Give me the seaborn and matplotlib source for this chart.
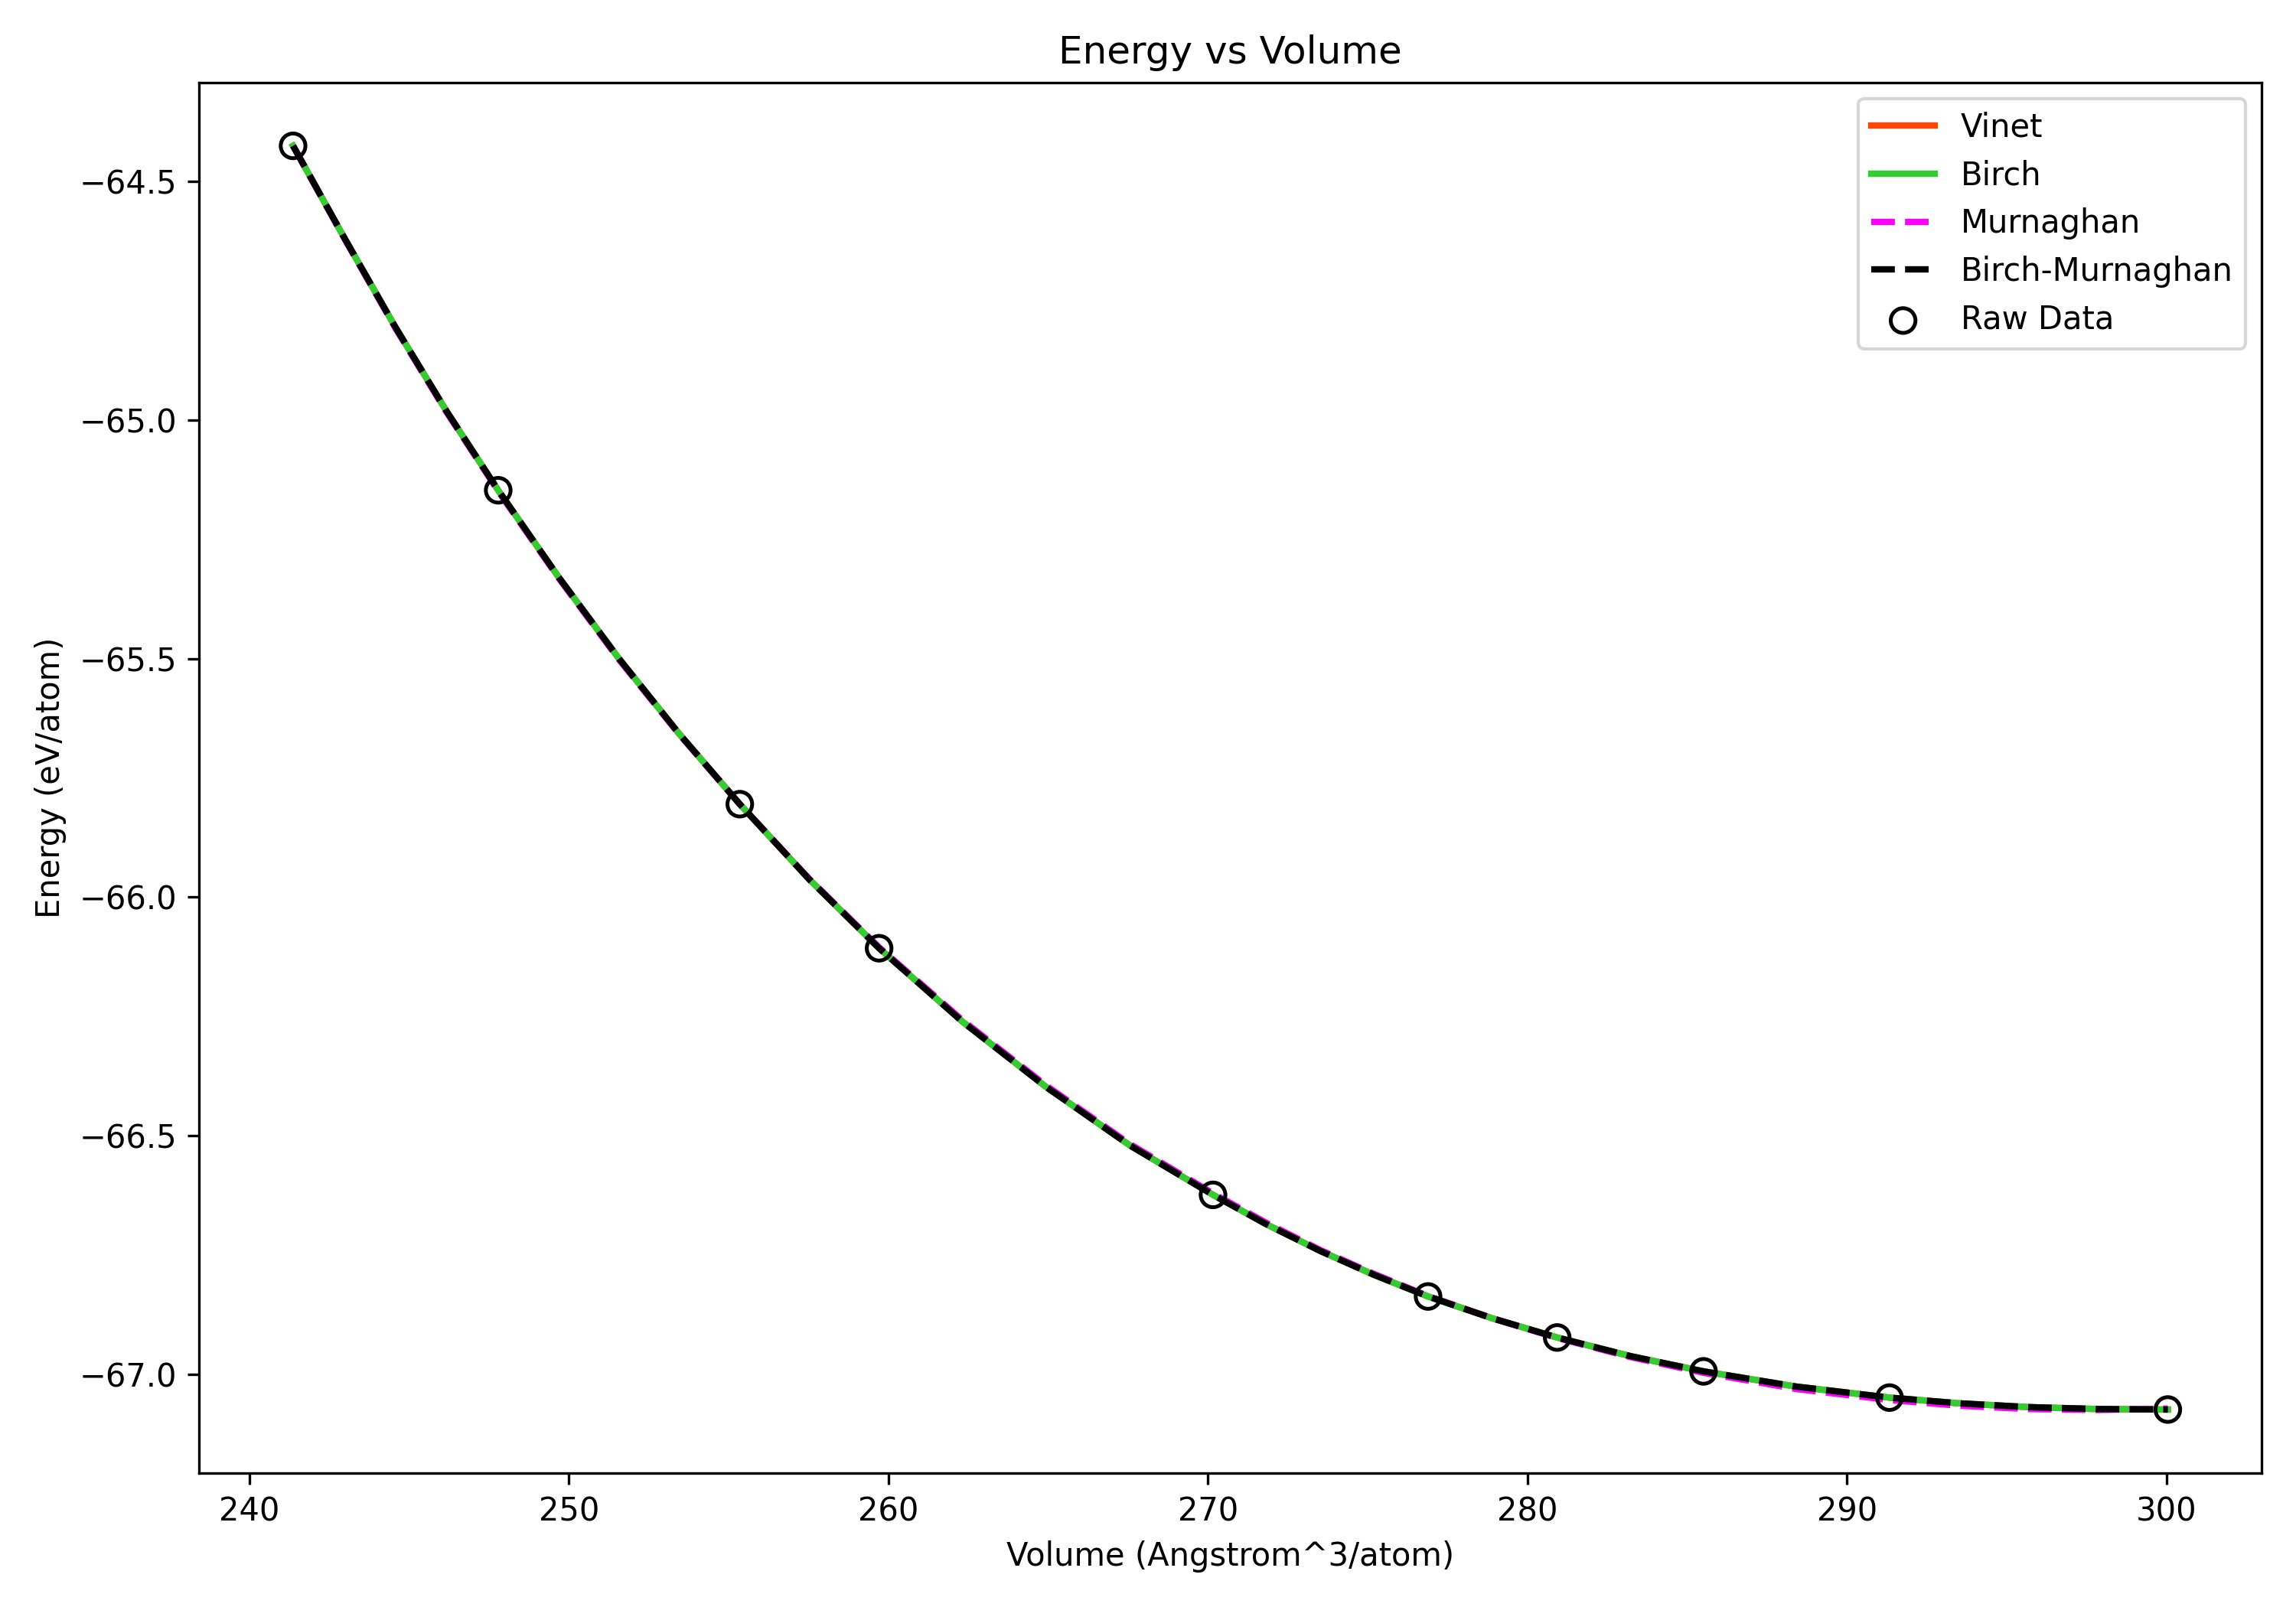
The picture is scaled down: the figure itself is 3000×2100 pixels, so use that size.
import numpy as np
import seaborn as sns
import matplotlib
matplotlib.use('Agg')
from matplotlib import pyplot as plt

# raw data points
volume_raw = [241.37, 247.79, 255.35, 259.71, 270.16, 276.89, 280.93, 285.51, 291.33, 300.04]
energy_raw = [-64.425, -65.147, -65.805, -66.107, -66.624, -66.837, -66.923, -66.994, -67.049, -67.074]

# fitted curves, sampled along the drawn lines
volume_fit = [241.37, 243.0, 244.58, 246.18, 247.79, 249.68, 251.57, 253.46, 255.35, 257.53,
              259.71, 262.32, 264.94, 267.55, 270.16, 271.84, 273.53, 275.21, 276.89, 278.91,
              280.93, 283.22, 285.51, 288.42, 291.33, 293.51, 295.69, 297.86, 300.04]
energy_vinet = [-64.425, -64.621, -64.806, -64.982, -65.147, -65.329, -65.500, -65.658, -65.805, -65.963,
                -66.107, -66.261, -66.398, -66.520, -66.624, -66.686, -66.742, -66.792, -66.837, -66.883,
                -66.923, -66.962, -66.994, -67.026, -67.049, -67.061, -67.069, -67.073, -67.074]
energy_birch = [-64.425, -64.621, -64.806, -64.982, -65.147, -65.329, -65.500, -65.658, -65.805, -65.963,
                -66.107, -66.261, -66.398, -66.520, -66.624, -66.686, -66.742, -66.792, -66.837, -66.883,
                -66.923, -66.962, -66.994, -67.026, -67.049, -67.061, -67.069, -67.073, -67.074]
energy_murn = [-64.425, -64.622, -64.808, -64.984, -65.149, -65.331, -65.502, -65.659, -65.805, -65.962,
               -66.105, -66.258, -66.395, -66.517, -66.621, -66.683, -66.740, -66.790, -66.836, -66.883,
               -66.924, -66.964, -66.997, -67.031, -67.054, -67.066, -67.073, -67.075, -67.072]
energy_bm = [-64.425, -64.621, -64.806, -64.982, -65.147, -65.329, -65.500, -65.658, -65.805, -65.963,
             -66.107, -66.261, -66.398, -66.520, -66.624, -66.686, -66.742, -66.792, -66.837, -66.883,
             -66.923, -66.962, -66.994, -67.026, -67.049, -67.061, -67.069, -67.073, -67.074]

fig, ax = plt.subplots(figsize=(10, 7), dpi=300)

sns.lineplot(x=volume_fit, y=energy_vinet, color='orangered', linewidth=2, label='Vinet', ax=ax)
sns.lineplot(x=volume_fit, y=energy_birch, color='limegreen', linewidth=2, label='Birch', ax=ax)
sns.lineplot(x=volume_fit, y=energy_murn, color='magenta', linewidth=2, linestyle='--', label='Murnaghan', ax=ax)
sns.lineplot(x=volume_fit, y=energy_bm, color='black', linewidth=2, linestyle='--', label='Birch-Murnaghan', ax=ax)
sns.scatterplot(x=volume_raw, y=energy_raw, color='black', facecolor='none', edgecolor='black',
                s=60, linewidth=1.2, label='Raw Data', ax=ax, zorder=5)

ax.set_title('Energy vs Volume')
ax.set_xlabel('Volume (Angstrom^3/atom)')
ax.set_ylabel('Energy (eV/atom)')
ax.set_xticks(np.arange(240, 301, 10))
ax.set_yticks([-64.5, -65.0, -65.5, -66.0, -66.5, -67.0])
ax.legend(loc='upper right')

plt.tight_layout()
plt.savefig('out.png', dpi=300)
